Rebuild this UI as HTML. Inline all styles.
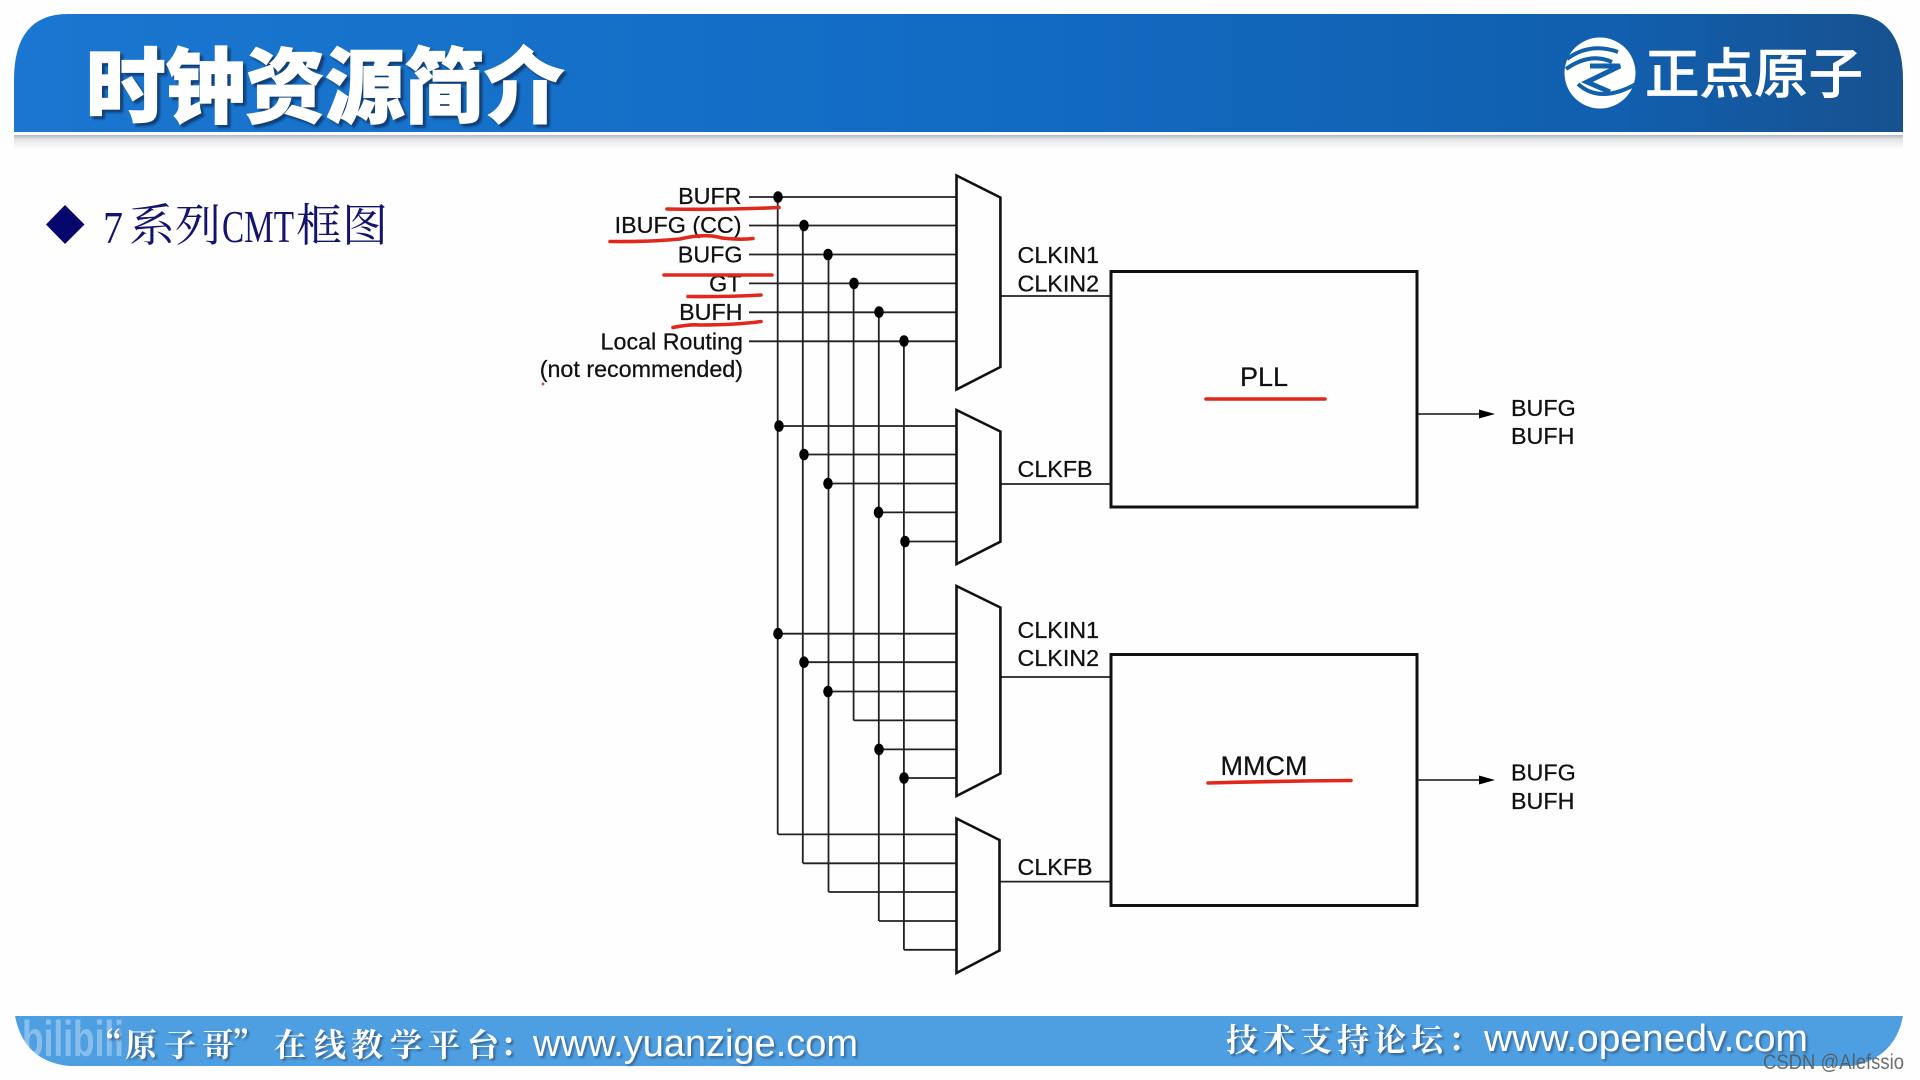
<!DOCTYPE html>
<html lang="zh">
<head>
<meta charset="utf-8">
<title>时钟资源简介</title>
<style>
html,body{margin:0;padding:0;width:1920px;height:1080px;overflow:hidden;background:#fefefe}
svg{display:block}
.lb{font-family:"Liberation Sans",sans-serif;font-size:23.3px;fill:#111;stroke:#111;stroke-width:.25}
.w{stroke:#222;stroke-width:1.8;fill:none}
.m{stroke:#111;stroke-width:2.6;fill:none;stroke-linejoin:miter}
.r{stroke:#e2281c;stroke-width:3.6;fill:none;stroke-linecap:round}
.b{stroke:#111;stroke-width:3;fill:none}
.ft{font-family:"Noto Serif CJK SC","Liberation Serif",serif;font-weight:700;font-size:32px;fill:#fff;filter:drop-shadow(2px 2px 1px rgba(40,60,90,.6))}
.fe{font-family:"Liberation Sans",sans-serif;font-size:38px;fill:#fff;filter:drop-shadow(2px 2px 1px rgba(40,60,90,.55))}
</style>
</head>
<body>
<svg width="1920" height="1080" viewBox="0 0 1920 1080" xmlns="http://www.w3.org/2000/svg">
<defs>
<linearGradient id="hg" x1="0" x2="1" y1="0" y2="0">
<stop offset="0" stop-color="#1a76d0"/>
<stop offset=".5" stop-color="#126cc4"/>
<stop offset=".85" stop-color="#115fae"/>
<stop offset="1" stop-color="#17518f"/>
</linearGradient>
<linearGradient id="sh" x1="0" x2="0" y1="0" y2="1">
<stop offset="0" stop-color="#b4b8bc"/>
<stop offset=".3" stop-color="#e2e4e6"/>
<stop offset="1" stop-color="#fefefe"/>
</linearGradient>
</defs>
<rect width="1920" height="1080" fill="#fefefe"/>

<!-- header -->
<path d="M14 132 V80 Q14 14 68 14 H1850 Q1903 14 1903 80 V132 Z" fill="url(#hg)"/>
<rect x="14" y="135" width="1889" height="14" fill="url(#sh)"/>
<text x="86" y="116" font-family="'Noto Sans CJK SC',sans-serif" font-weight="900" font-size="82" fill="#fff" stroke="#fff" stroke-width="1.2" textLength="478" lengthAdjust="spacingAndGlyphs" style="filter:drop-shadow(3px 3px 1px rgba(15,45,90,.75))">时钟资源简介</text>

<!-- logo -->
<circle cx="1600" cy="73" r="35.5" fill="#fff"/>
<path d="M1567 59 Q1590 42 1618 52" stroke="#1160ac" stroke-width="4" fill="none"/>
<path d="M1566 69 Q1590 52 1612 62" stroke="#1160ac" stroke-width="4" fill="none"/>
<path d="M1590 66 H1620 L1587 82 L1610 92" stroke="#1160ac" stroke-width="5" fill="none"/>
<path d="M1578 84 Q1600 104 1636 84" stroke="#1160ac" stroke-width="4" fill="none"/>
<text x="1645" y="93" font-family="'Noto Sans CJK SC',sans-serif" font-weight="500" font-size="54" fill="#fff" stroke="#fff" stroke-width=".6" textLength="218" lengthAdjust="spacingAndGlyphs">正点原子</text>

<!-- heading -->
<path d="M46 224.5 L65 205 L84.5 224.5 L65 244 Z" fill="#06066e"/>
<g font-family="'Noto Serif CJK SC','Liberation Serif',serif" fill="#14146e" font-size="45">
<text x="103" y="243" font-family="'Liberation Serif',serif" font-size="46" textLength="20" lengthAdjust="spacingAndGlyphs">7</text>
<text x="129" y="241" textLength="92" lengthAdjust="spacingAndGlyphs">系列</text>
<text x="222" y="242" font-family="'Liberation Serif',serif" font-size="46" textLength="72" lengthAdjust="spacingAndGlyphs">CMT</text>
<text x="296" y="241" textLength="92" lengthAdjust="spacingAndGlyphs">框图</text>
</g>

<!-- wiring -->
<g class="w">
<path d="M749 197H957M749 225.5H957M749 254.5H957M749 283.4H957M749 312.3H957M749 341.3H957"/>
<path d="M778 426H957M804 454.5H957M828 483.5H957M879 512.4H957M904 541.5H957"/>
<path d="M778 633.7H957M804 662.2H957M828 691.5H957M853.6 720.4H957M879 749.4H957M904 778H957"/>
<path d="M778 834.4H957M803 863.3H957M828.5 892H957M879 921H957M904 949.8H957"/>
<path d="M777.7 197V834.4M802.8 225.5V863.3M828.5 254.5V892M853.6 283.4V720.4M878.8 312.3V921M903.9 341.3V949.8"/>
<path d="M1000 296H1111M1000 484H1111M1000 677H1111M999 881.6H1111"/>
</g>
<g fill="#000">
<ellipse cx="778" cy="197" rx="4.8" ry="5.8"/><ellipse cx="804" cy="225.5" rx="4.8" ry="5.8"/><ellipse cx="828" cy="254.5" rx="4.8" ry="5.8"/><ellipse cx="854" cy="283.4" rx="4.8" ry="5.8"/><ellipse cx="879" cy="312" rx="4.8" ry="5.8"/><ellipse cx="904" cy="341" rx="4.8" ry="5.8"/>
<ellipse cx="779" cy="426" rx="4.8" ry="5.8"/><ellipse cx="804" cy="454.5" rx="4.8" ry="5.8"/><ellipse cx="828" cy="483.5" rx="4.8" ry="5.8"/><ellipse cx="878.5" cy="512.4" rx="4.8" ry="5.8"/><ellipse cx="905" cy="541.5" rx="4.8" ry="5.8"/>
<ellipse cx="778" cy="633.7" rx="4.8" ry="5.8"/><ellipse cx="804" cy="662.2" rx="4.8" ry="5.8"/><ellipse cx="828" cy="691.5" rx="4.8" ry="5.8"/><ellipse cx="879" cy="749.4" rx="4.8" ry="5.8"/><ellipse cx="904" cy="778" rx="4.8" ry="5.8"/>
</g>

<!-- muxes -->
<g class="m">
<path d="M956.5 175.5 L1000.4 197.5 V367 L956.5 389.5 Z"/>
<path d="M956.5 410 L1000.4 431.5 V541.7 L956.5 564 Z"/>
<path d="M956.5 586 L1000.4 607.5 V773.5 L956.5 796 Z"/>
<path d="M956.5 818.5 L999.5 840 V950.5 L956.5 973 Z"/>
</g>

<!-- boxes -->
<rect class="b" x="1111" y="271.5" width="306" height="235.5"/>
<rect class="b" x="1111" y="654.5" width="306" height="251"/>

<!-- arrows -->
<path d="M1418 414H1482" stroke="#111" stroke-width="1.6"/>
<path d="M1479 409.5 L1495 414 L1479 418.5 Z" fill="#000"/>
<path d="M1418 780H1482" stroke="#333" stroke-width="1.8"/>
<path d="M1479 775.5 L1495 780 L1479 784.5 Z" fill="#000"/>

<!-- labels -->
<g class="lb" text-anchor="end">
<text x="741.5" y="204">BUFR</text>
<text x="741.5" y="233">IBUFG (CC)</text>
<text x="742.5" y="262.5">BUFG</text>
<text x="741.5" y="291.5">GT</text>
<text x="742.5" y="320">BUFH</text>
<text x="743" y="349.5">Local Routing</text>
<text x="743" y="377">(not recommended)</text>
</g>
<g class="lb">
<text x="1017.5" y="263">CLKIN1</text>
<text x="1017.5" y="291.7">CLKIN2</text>
<text x="1017.5" y="477">CLKFB</text>
<text x="1017.5" y="638">CLKIN1</text>
<text x="1017.5" y="666">CLKIN2</text>
<text x="1017.5" y="875">CLKFB</text>
<text x="1511" y="416">BUFG</text>
<text x="1511" y="444">BUFH</text>
<text x="1511" y="780.5">BUFG</text>
<text x="1511" y="809">BUFH</text>
<text x="1264" y="386" text-anchor="middle" style="font-size:27px">PLL</text>
<text x="1264" y="775" text-anchor="middle" style="font-size:27px">MMCM</text>
</g>

<!-- red annotations -->
<g class="r">
<path d="M667 209 Q720 210 779 207.5"/>
<path d="M610 241.5 Q650 242 680 239 Q705 233 722 238 Q740 240 753 238.5"/>
<path d="M664 275 H772"/>
<path d="M688 296.5 Q725 297 761 295"/>
<path d="M673 327.5 Q690 324 700 325 Q735 325 761 321.5"/>
<path d="M1206 399 H1325"/>
<path d="M1208 783 Q1280 781 1351 780.5"/>
</g>
<circle cx="543" cy="384" r="1.4" fill="#d04060"/>

<!-- footer -->
<path d="M15 1016 H1903 Q1895 1058 1852 1066 H70 Q24 1062 15 1016 Z" fill="#4e9fe2"/>
<text x="22" y="1056" font-family="'Liberation Sans',sans-serif" font-weight="700" font-size="50" fill="#fff" opacity=".33" textLength="102" lengthAdjust="spacingAndGlyphs">bilibili</text>
<text class="ft" y="1056" x="90 125 164 202 232 274 314 351 390 428 467 500">“原子哥”在线教学平台：</text>
<text x="533" y="1056" class="fe" textLength="325" lengthAdjust="spacingAndGlyphs">www.yuanzige.com</text>
<text class="ft" y="1051" x="1226 1263 1300 1337 1374 1411 1448">技术支持论坛：</text>
<text x="1484" y="1051" class="fe" textLength="324" lengthAdjust="spacingAndGlyphs">www.openedv.com</text>
<text x="1763" y="1069" font-family="'Liberation Sans',sans-serif" font-size="21" fill="#555" opacity=".85" textLength="141" lengthAdjust="spacingAndGlyphs">CSDN @Alefssio</text>
</svg>
</body>
</html>
